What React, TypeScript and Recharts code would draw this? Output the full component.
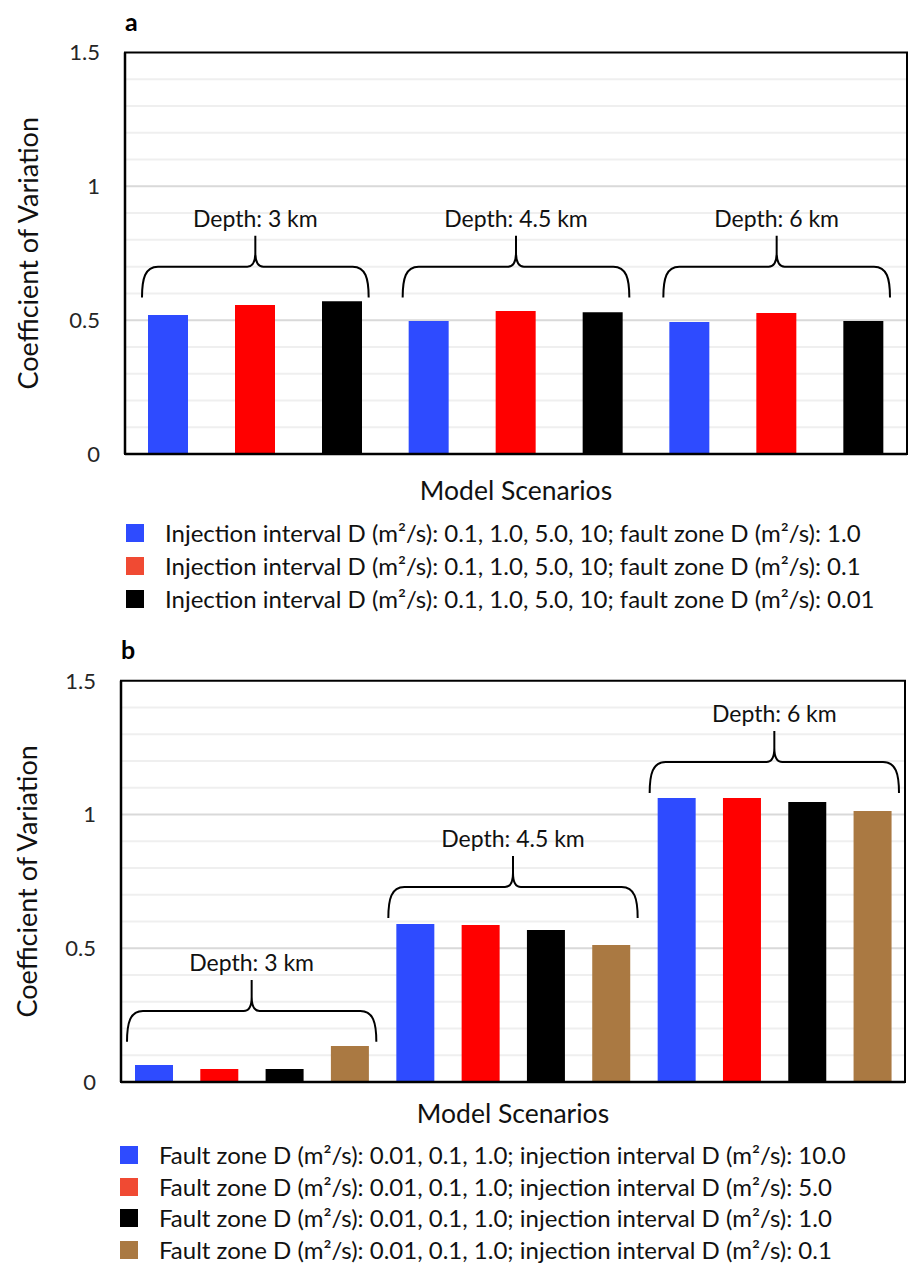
import React from "react";
import { BarChart, Bar, XAxis, YAxis, CartesianGrid, ReferenceArea } from "recharts";

const FONT = "Lato, 'Open Sans', sans-serif";

// panel a: injection interval D varied, one bar per fault zone D
const depthsA = ["3 km", "4.5 km", "6 km"];
const fault10 = [0.519, 0.497, 0.493];
const fault01 = [0.557, 0.534, 0.527];
const fault001 = [0.571, 0.53, 0.497];
const namesA = [
  "Injection interval D (m²/s): 0.1, 1.0, 5.0, 10; fault zone D (m²/s): 1.0",
  "Injection interval D (m²/s): 0.1, 1.0, 5.0, 10; fault zone D (m²/s): 0.1",
  "Injection interval D (m²/s): 0.1, 1.0, 5.0, 10; fault zone D (m²/s): 0.01",
];

// panel b: fault zone D varied, one bar per injection interval D
const depthsB = ["3 km", "4.5 km", "6 km"];
const inj10 = [0.064, 0.591, 1.062];
const inj5 = [0.049, 0.587, 1.062];
const inj1 = [0.049, 0.568, 1.047];
const inj01 = [0.135, 0.512, 1.013];
const namesB = [
  "Fault zone D (m²/s): 0.01, 0.1, 1.0; injection interval D (m²/s): 10.0",
  "Fault zone D (m²/s): 0.01, 0.1, 1.0; injection interval D (m²/s): 5.0",
  "Fault zone D (m²/s): 0.01, 0.1, 1.0; injection interval D (m²/s): 1.0",
  "Fault zone D (m²/s): 0.01, 0.1, 1.0; injection interval D (m²/s): 0.1",
];

const barColors = ["#2e4bff", "#ff0000", "#000000", "#aa7942"];
const legendColors = ["#2e4bff", "#f04a33", "#000000", "#aa7942"];

const yTicks = [0, 0.5, 1, 1.5];
const minorLines = [0.1, 0.2, 0.3, 0.4, 0.6, 0.7, 0.8, 0.9, 1.1, 1.2, 1.3, 1.4];
const majorLines = [0.5, 1];

// brace annotations: lo = brace ends, hi = brace tip (value units)
const bracesA = [
  { depth: "3 km", lo: 0.585, hi: 0.815 },
  { depth: "4.5 km", lo: 0.585, hi: 0.815 },
  { depth: "6 km", lo: 0.585, hi: 0.815 },
];
const bracesB = [
  { depth: "3 km", lo: 0.15, hi: 0.381 },
  { depth: "4.5 km", lo: 0.613, hi: 0.845 },
  { depth: "6 km", lo: 1.08, hi: 1.312 },
];

const rowsA = depthsA.map((d, i) => ({ depth: d, s0: fault10[i], s1: fault01[i], s2: fault001[i] }));
const rowsB = depthsB.map((d, i) => ({ depth: d, s0: inj10[i], s1: inj5[i], s2: inj1[i], s3: inj01[i] }));

function braceShape(label: string, inset: number) {
  return (p: any) => {
    const x0 = p.x + inset;
    const x1 = p.x + p.width - inset;
    const xm = (x0 + x1) / 2;
    const yt = p.y;
    const yb = p.y + p.height;
    const yh = (yt + yb) / 2;
    const d =
      `M${x0},${yb} C${x0},${yh + 12} ${x0 + 3},${yh} ${x0 + 16},${yh} L${xm - 8},${yh} ` +
      `C${xm - 3},${yh} ${xm},${yh - 5} ${xm},${yh - 14} L${xm},${yt} ` +
      `M${xm},${yh - 14} C${xm},${yh - 5} ${xm + 3},${yh} ${xm + 8},${yh} L${x1 - 16},${yh} ` +
      `C${x1 - 3},${yh} ${x1},${yh + 12} ${x1},${yb}`;
    return (
      <g>
        <path d={d} fill="none" stroke="#000" strokeWidth={2} />
        <text x={xm} y={yt - 9} textAnchor="middle" fontSize={23} fontFamily={FONT} fill="#111">
          Depth: {label}
        </text>
      </g>
    );
  };
}

function Panel(props: any) {
  const { rows, names, braces, top, plotTop, plotBottom, left, right, barSize, barGap, inset, letter, legendTop, legendX, legendGap, yLabelX, xLabelOffset } = props;
  const height = 540;
  return (
    <div style={{ position: "absolute", left: 0, top }}>
      <div style={{ position: "absolute", left: left, top: plotTop - 47, fontSize: 25, fontWeight: 700, fontFamily: FONT }}>{letter}</div>
      <BarChart
        width={908}
        height={height}
        data={rows}
        barSize={barSize}
        barGap={barGap}
        margin={{ top: plotTop, right: 908 - right, left: 0, bottom: 0 }}
      >
        <CartesianGrid horizontalValues={minorLines} vertical={false} stroke="#efefef" strokeWidth={2} />
        <CartesianGrid horizontalValues={majorLines} vertical={false} stroke="#d9d9d9" strokeWidth={2} />
        <XAxis
          dataKey="depth"
          tick={false}
          tickLine={false}
          height={height - plotBottom}
          axisLine={{ stroke: "#000", strokeWidth: 2.5 }}
          label={{
            content: (lp: any) => {
              const vb = lp.viewBox;
              return (
                <text x={vb.x + vb.width / 2} y={plotBottom + xLabelOffset} textAnchor="middle" dominantBaseline="central" fontSize={26.5} fontFamily={FONT} fill="#111">
                  Model Scenarios
                </text>
              );
            },
          }}
        />
        <YAxis
          type="number"
          domain={[0, 1.5]}
          ticks={yTicks}
          width={left}
          tickLine={false}
          tickSize={6}
          tickMargin={19}
          axisLine={{ stroke: "#000", strokeWidth: 2.5 }}
          tick={{ fontSize: 22, fill: "#262626", fontFamily: FONT }}
          tickFormatter={(v: number) => String(v)}
          label={{
            content: (lp: any) => {
              const vb = lp.viewBox;
              const cy = vb.y + vb.height / 2;
              return (
                <text x={yLabelX} y={cy} transform={`rotate(-90 ${yLabelX} ${cy})`} textAnchor="middle" dominantBaseline="central" fontSize={27} fontFamily={FONT} fill="#111">
                  Coefficient of Variation
                </text>
              );
            },
          }}
        />
        <ReferenceArea y1={0} y2={1.5} fill="none" fillOpacity={0} stroke="#000" strokeWidth={2} ifOverflow="visible" />
        {names.map((n: string, i: number) => (
          <Bar key={n} dataKey={`s${i}`} name={n} fill={barColors[i]} isAnimationActive={false} />
        ))}
        {braces.map((b: any) => (
          <ReferenceArea key={b.depth} x1={b.depth} x2={b.depth} y1={b.lo} y2={b.hi} ifOverflow="visible" shape={braceShape(b.depth, inset)} />
        ))}
      </BarChart>
      {names.map((n: string, i: number) => (
        <div
          key={n}
          style={{ position: "absolute", left: legendX, top: legendTop + i * legendGap - 10, display: "flex", alignItems: "center", height: 20, fontFamily: FONT, fontSize: 24, lineHeight: "20px", color: "#111", whiteSpace: "nowrap" }}
        >
          <span style={{ display: "inline-block", width: 18, height: 18, background: legendColors[i], marginRight: 21 }} />
          <span>{n}</span>
        </div>
      ))}
    </div>
  );
}

export default function App() {
  return (
    <div style={{ position: "absolute", left: 0, top: 0, width: 908, height: 1266, background: "#fff", fontFamily: FONT }}>
      <Panel
        rows={rowsA}
        names={namesA}
        braces={bracesA}
        top={0}
        plotTop={52.5}
        plotBottom={454}
        left={125}
        right={907}
        barSize={40}
        barGap={47}
        inset={17}
        letter="a"
        legendTop={533}
        legendX={126}
        legendGap={33}
        yLabelX={27}
        xLabelOffset={36}
      />
      <Panel
        rows={rowsB}
        names={namesB}
        braces={bracesB}
        top={620}
        plotTop={60.7}
        plotBottom={462}
        left={121}
        right={905}
        barSize={38}
        barGap={27.3}
        inset={6}
        letter="b"
        legendTop={535}
        legendX={120}
        legendGap={31.5}
        yLabelX={27}
        xLabelOffset={31}
      />
    </div>
  );
}
